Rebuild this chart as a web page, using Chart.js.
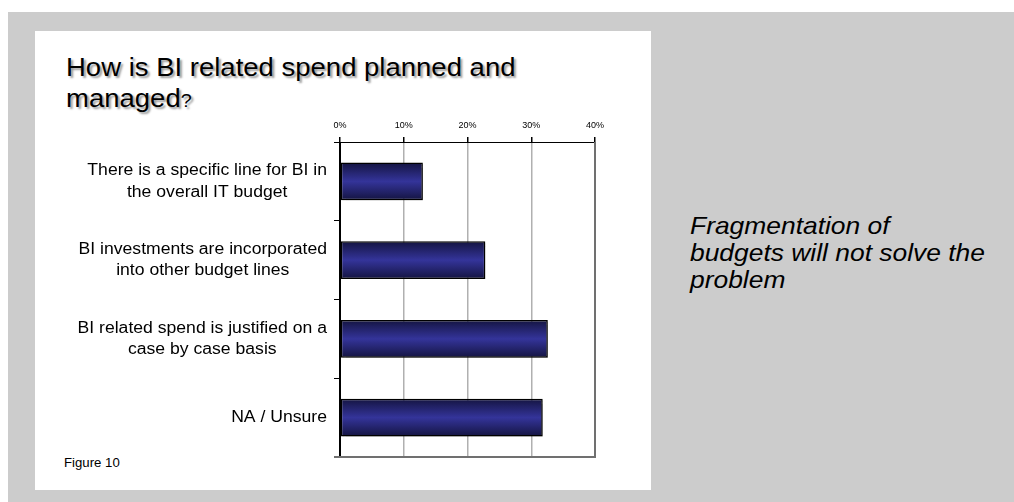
<!DOCTYPE html>
<html>
<head>
<meta charset="utf-8">
<script src="https://cdn.jsdelivr.net/npm/chart.js@4/dist/chart.umd.min.js"></script>
<style>
  html, body { margin: 0; padding: 0; background: #ffffff; }
  body { width: 1014px; height: 502px; position: relative; overflow: hidden; font-family: "Liberation Sans", Arial, sans-serif; }
  #slide { position: absolute; left: 8px; top: 12px; width: 1006px; height: 490px; background: #cccccc; }
  #panel { position: absolute; left: 35px; top: 31px; width: 616px; height: 459px; background: #ffffff; }
  .wide { transform: scaleX(1.1); transform-origin: 0 0; white-space: nowrap; }
  #title { position: absolute; left: 66px; top: 52px; font-size: 25px; line-height: 31px; color: #000;
           text-shadow: 2px 2px 2px #9a9a9a; }
  #title .q { font-size: 18px; }
  #fig { position: absolute; left: 64px; top: 456px; font-size: 12px; color: #000; }
  #note { position: absolute; left: 690px; top: 212px; font-size: 24px; line-height: 27px; font-style: italic; color: #000; }
  #chart { position: absolute; left: 0; top: 0; }
</style>
</head>
<body>
<div id="slide"></div>
<div id="panel"></div>
<div id="title" class="wide">How is BI related spend planned and<br>managed<span class="q">?</span></div>
<div id="fig" class="wide">Figure 10</div>
<div id="note" class="wide">Fragmentation of<br>budgets will not solve the<br>problem</div>
<canvas id="chart" width="1014" height="502"></canvas>
<script>
// Answer categories (each entry holds the label's lines)
const categories = [
  ["There is a specific line for BI in", "the overall IT budget"],
  ["BI investments are incorporated", "into other budget lines"],
  ["BI related spend is justified on a", "case by case basis"],
  ["NA / Unsure"]
];
// Share of respondents, percent
const shares = [13, 22.8, 32.6, 31.8];
// Top axis ticks
const axisTicks = [0, 10, 20, 30, 40];

// Vertical navy gradient for each bar
function barGradient(context) {
  const chart = context.chart;
  const y = chart.scales && chart.scales.y;
  const center = y ? y.getPixelForValue(context.dataIndex) : NaN;
  if (!isFinite(center)) return '#333399';
  const half = 19;
  const g = chart.ctx.createLinearGradient(0, center - half, 0, center + half);
  g.addColorStop(0, '#141440');
  g.addColorStop(0.5, '#34349a');
  g.addColorStop(1, '#141440');
  return g;
}

// Category labels: multi-line, centred on each other, right edge near the axis
const categoryLabels = {
  id: 'categoryLabels',
  afterDraw(chart) {
    const ctx = chart.ctx;
    const y = chart.scales.y;
    const stretch = 1.1;
    ctx.save();
    ctx.font = '16px "Liberation Sans", Arial, sans-serif';
    ctx.fillStyle = '#000';
    ctx.textAlign = 'center';
    ctx.textBaseline = 'middle';
    const right = 327, lh = 21.5;
    categories.forEach((lines, i) => {
      const cy = y.getPixelForValue(i);
      const w = Math.max(...lines.map(l => ctx.measureText(l).width)) * stretch;
      const cx = right - w / 2;
      const start = cy - (lines.length - 1) * lh / 2;
      lines.forEach((l, k) => {
        ctx.save();
        ctx.translate(cx, start + k * lh);
        ctx.scale(stretch, 1);
        ctx.fillText(l, 0, 0);
        ctx.restore();
      });
    });
    ctx.restore();
  }
};

// Soft drop shadow under the bars
const barShadow = {
  id: 'barShadow',
  beforeDatasetsDraw(chart) {
    const ctx = chart.ctx;
    ctx.save();
    ctx.shadowColor = 'rgba(0,0,0,0.22)';
    ctx.shadowOffsetX = 2;
    ctx.shadowOffsetY = 2;
    ctx.shadowBlur = 1;
  },
  afterDatasetsDraw(chart) {
    chart.ctx.restore();
  }
};

// Right and bottom frame of the plot area
const plotFrame = {
  id: 'plotFrame',
  afterDatasetsDraw(chart) {
    const a = chart.chartArea;
    const ctx = chart.ctx;
    ctx.save();
    ctx.strokeStyle = '#707070';
    ctx.lineWidth = 2;
    ctx.beginPath();
    ctx.moveTo(a.right, a.top);
    ctx.lineTo(a.right, a.bottom);
    ctx.lineTo(a.left - 6, a.bottom);
    ctx.stroke();
    ctx.restore();
  }
};

new Chart(document.getElementById('chart'), {
  type: 'bar',
  data: {
    labels: categories,
    datasets: [{
      data: shares,
      backgroundColor: barGradient,
      borderColor: '#000000',
      borderWidth: 1.5,
      borderSkipped: false,
      categoryPercentage: 1,
      barPercentage: 0.48
    }]
  },
  options: {
    indexAxis: 'y',
    responsive: false,
    animation: false,
    devicePixelRatio: 1,
    layout: { padding: { left: 0, top: 112, right: 419, bottom: 45 } },
    plugins: { legend: { display: false }, tooltip: { enabled: false } },
    scales: {
      x: {
        position: 'top',
        min: axisTicks[0],
        max: axisTicks[axisTicks.length - 1],
        afterFit(scale) { scale.height = 30; },
        afterBuildTicks(scale) { scale.ticks = axisTicks.map(v => ({ value: v })); },
        ticks: {
          callback: v => v + '%',
          font: { size: 9, family: '"Liberation Sans", Arial, sans-serif' },
          color: '#000',
          padding: 6,
          maxRotation: 0
        },
        grid: {
          color: c => (c.tick && c.tick.value === 0) ? '#000' : '#b0b0b0',
          lineWidth: 1.5,
          tickColor: '#000',
          tickLength: 5
        },
        border: { color: '#000', width: 1 }
      },
      y: {
        afterFit(scale) { scale.width = 340; },
        ticks: { display: false },
        grid: {
          offset: true,
          drawOnChartArea: false,
          color: '#000',
          tickLength: 6
        },
        border: { color: '#000', width: 1 }
      }
    }
  },
  plugins: [categoryLabels, barShadow, plotFrame]
});
</script>
</body>
</html>
